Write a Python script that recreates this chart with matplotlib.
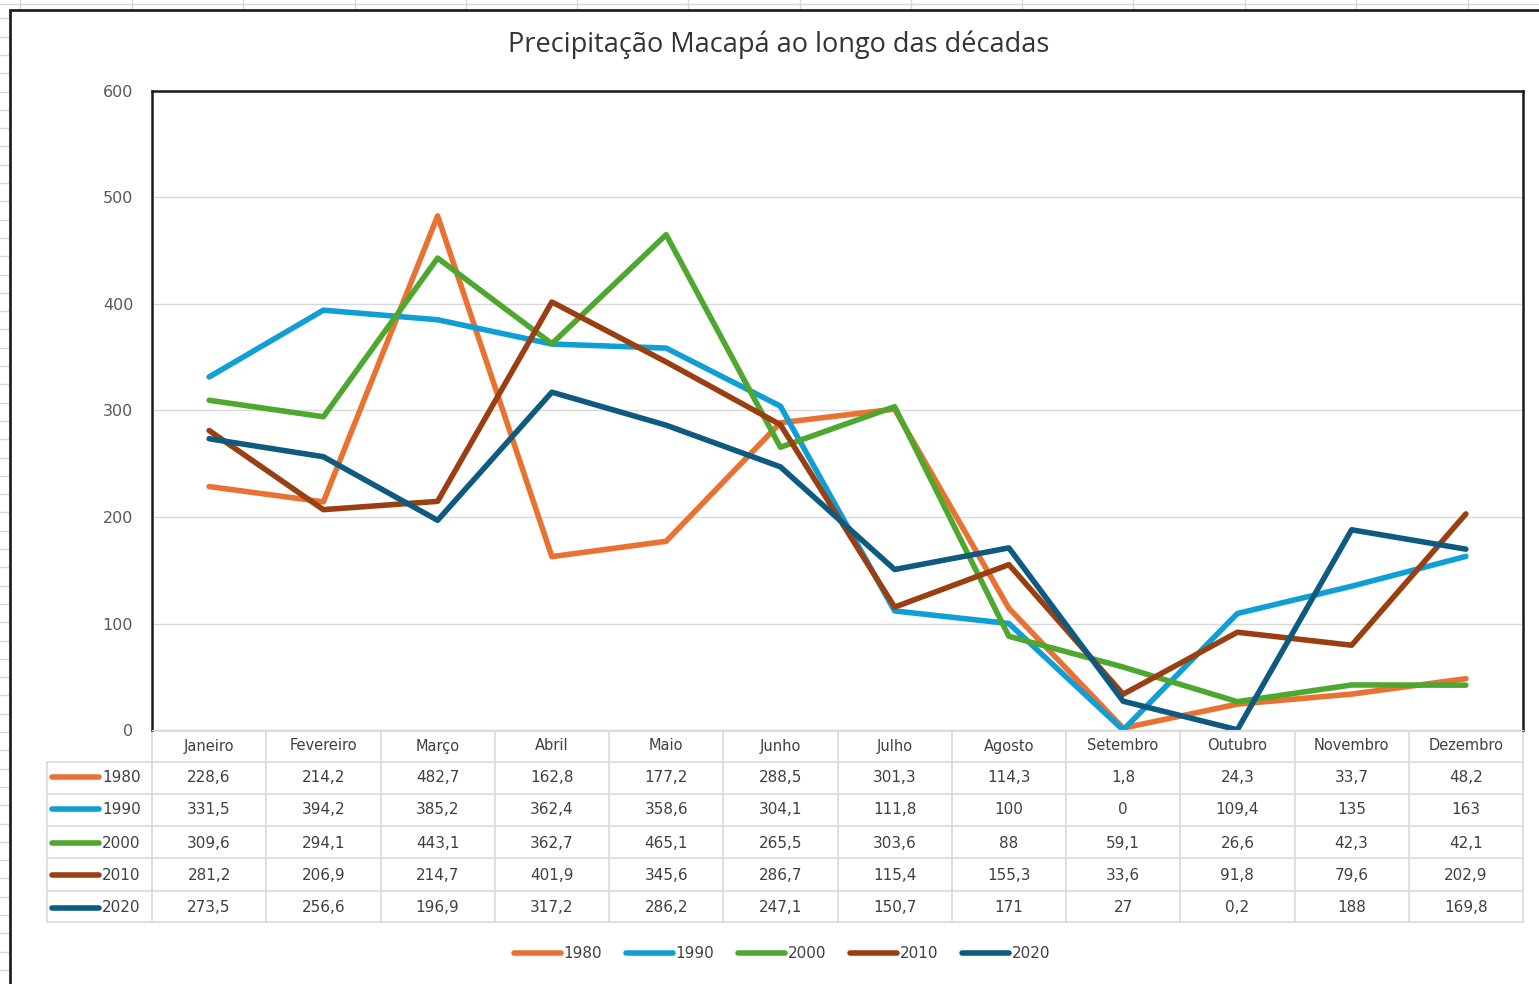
import numpy as np
import matplotlib.pyplot as plt
from matplotlib.patches import Rectangle
from matplotlib.lines import Line2D

plt.rcParams['font.family'] = ['DejaVu Sans']

meses = ['Janeiro', 'Fevereiro', 'Março', 'Abril', 'Maio', 'Junho',
         'Julho', 'Agosto', 'Setembro', 'Outubro', 'Novembro', 'Dezembro']
decadas = ['1980', '1990', '2000', '2010', '2020']
chuva_1980 = [228.6, 214.2, 482.7, 162.8, 177.2, 288.5, 301.3, 114.3, 1.8, 24.3, 33.7, 48.2]
chuva_1990 = [331.5, 394.2, 385.2, 362.4, 358.6, 304.1, 111.8, 100, 0, 109.4, 135, 163]
chuva_2000 = [309.6, 294.1, 443.1, 362.7, 465.1, 265.5, 303.6, 88, 59.1, 26.6, 42.3, 42.1]
chuva_2010 = [281.2, 206.9, 214.7, 401.9, 345.6, 286.7, 115.4, 155.3, 33.6, 91.8, 79.6, 202.9]
chuva_2020 = [273.5, 256.6, 196.9, 317.2, 286.2, 247.1, 150.7, 171, 27, 0.2, 188, 169.8]
series = [chuva_1980, chuva_1990, chuva_2000, chuva_2010, chuva_2020]
cores = ['#E97132', '#0F9ED5', '#4EA72E', '#9A3F12', '#0E5A80']

W, H = 1539, 984
fig = plt.figure(figsize=(W / 100, H / 100), dpi=100)
fig.patch.set_facecolor('white')

# spreadsheet grid behind the chart
for px in [20, 132, 243, 355, 466, 577, 688, 800, 911, 1022, 1133, 1245, 1356, 1468]:
    fig.add_artist(Line2D([px / W, px / W], [1, 1 - 9 / H], color='#D8D8D8', lw=1, zorder=-5))
fig.add_artist(Line2D([0, 1], [1 - 4 / H, 1 - 4 / H], color='#D8D8D8', lw=1, zorder=-5))
for py in np.arange(18.3, H, 18.3):
    fig.add_artist(Line2D([0, 9 / W], [1 - py / H, 1 - py / H], color='#D8D8D8', lw=1, zorder=-5))
fig.add_artist(Rectangle((10 / W, -0.01), 1.0, 1 - 10 / H + 0.01, transform=fig.transFigure,
                         facecolor='white', edgecolor='#222222', lw=2, zorder=-4))

L, R, T, B = 152, 1523, 91, 730
ax = fig.add_axes([L / W, 1 - B / H, (R - L) / W, (B - T) / H])
x = np.arange(len(meses))
for dec, vals, c in zip(decadas, series, cores):
    ax.plot(x, vals, color=c, lw=4, label=dec, solid_capstyle='round', solid_joinstyle='round')

ax.set_xlim(-0.5, 11.5)
ax.set_ylim(0, 600)
ax.set_yticks(range(0, 601, 100))
ax.set_xticks([])
ax.grid(axis='y', color='#D9D9D9', lw=1)
ax.set_axisbelow(True)
ax.tick_params(axis='y', length=0, pad=13.5, labelsize=11.5, labelcolor='#595959')
for s in ['left', 'top', 'right']:
    ax.spines[s].set_color('#1A1A1A')
    ax.spines[s].set_linewidth(1.8)
ax.spines['bottom'].set_color('#D9D9D9')

fig.text(779 / W, 1 - 45 / H, 'Precipitação Macapá ao longo das décadas', family='Open Sans',
         fontsize=19.5, color='#333333', ha='center', va='center')

# data table under the plot
tr = ax.get_xaxis_transform()
colw = (R - L) / 12


def ya(py):
    return (B - py) / (B - T)


def xd(px):
    return -0.5 + (px - L) / colw


grid_c = '#D9D9D9'
row_lines = [731, 762, 794, 826, 858, 891, 922]
for i, py in enumerate(row_lines):
    x0 = -0.5 if i == 0 else xd(47)
    ax.plot([x0, 11.5], [ya(py), ya(py)], color=grid_c, lw=1.2, transform=tr, clip_on=False)
for k in range(13):
    ax.plot([k - 0.5, k - 0.5], [ya(731), ya(922)], color=grid_c, lw=1.2, transform=tr, clip_on=False)
ax.plot([xd(47), xd(47)], [ya(762), ya(922)], color=grid_c, lw=1.2, transform=tr, clip_on=False)

for j, m in enumerate(meses):
    ax.text(j, ya(746), m, transform=tr, ha='center', va='center', fontsize=10.5, color='#404040')

row_c = [777, 809, 843, 875, 908]
for dec, vals, c, py in zip(decadas, series, cores, row_c):
    ax.plot([xd(52), xd(99)], [ya(py), ya(py)], color=c, lw=4, transform=tr,
            clip_on=False, solid_capstyle='round')
    ax.text(xd(102), ya(py), dec, transform=tr, ha='left', va='center', fontsize=11, color='#404040')
    for j, v in enumerate(vals):
        txt = f'{v:g}'.replace('.', ',')
        ax.text(j, ya(py), txt, transform=tr, ha='center', va='center', fontsize=11, color='#404040')

handles, labels = ax.get_legend_handles_labels()
leg = fig.legend(handles, labels, loc='center', bbox_to_anchor=(782 / W, 1 - 954 / H), ncol=5,
                 frameon=False, fontsize=11, handlelength=3.1, handletextpad=0.15,
                 columnspacing=1.55, labelcolor='#404040')

fig.savefig('out.png', dpi=100, facecolor='white')
